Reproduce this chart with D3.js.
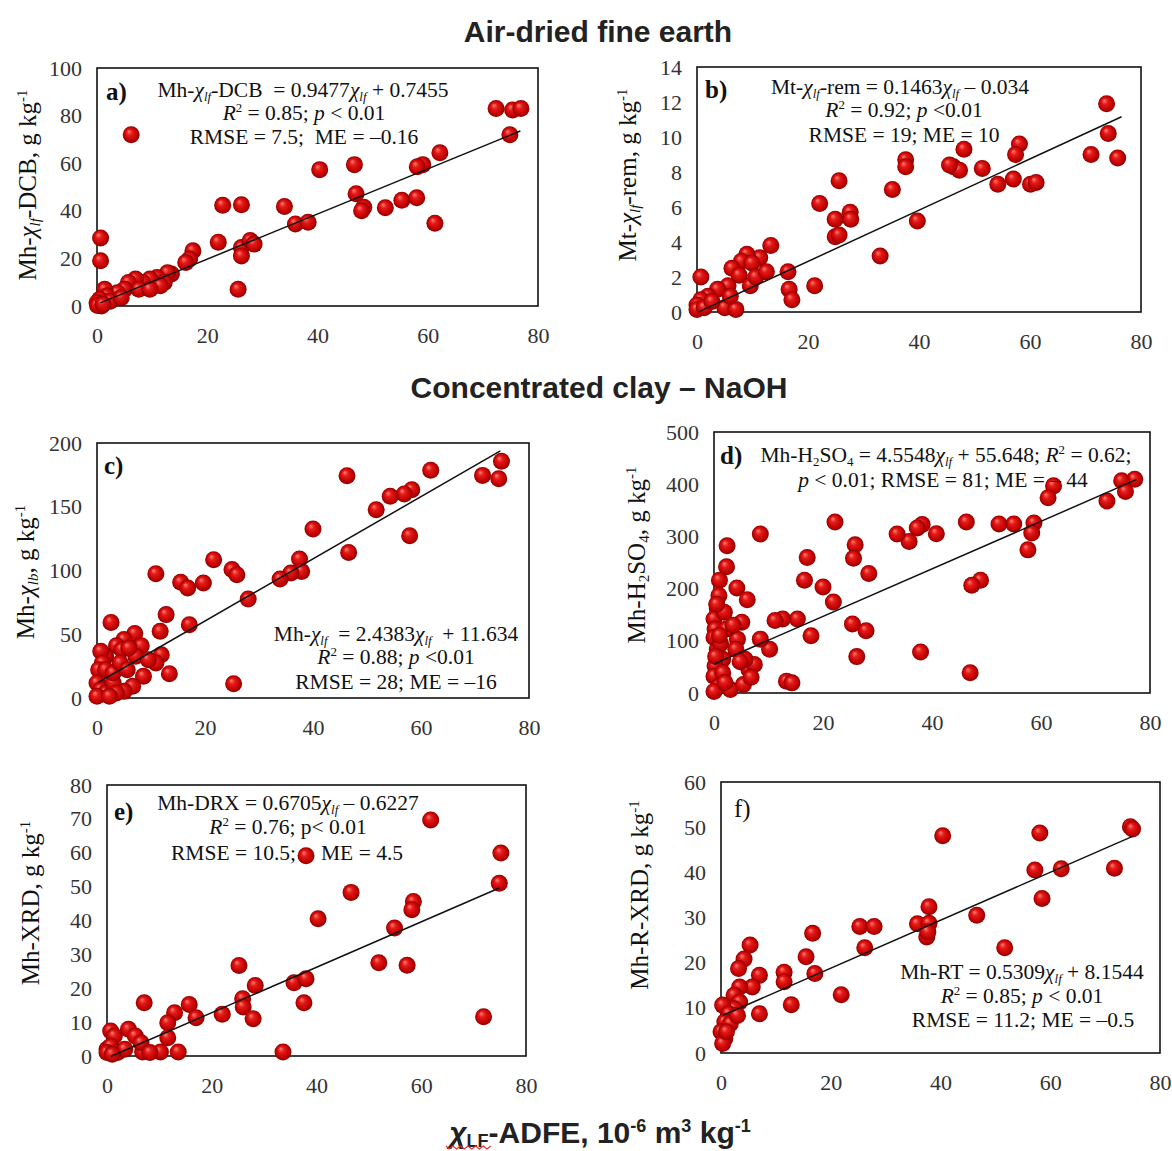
<!DOCTYPE html>
<html>
<head>
<meta charset="utf-8">
<script src="https://cdn.jsdelivr.net/npm/d3@7"></script>
<style>
  body { margin: 0; background: #fff; }
  svg { display: block; }
  text { font-family: "Liberation Serif", "Times New Roman", serif; }
  .title { font-family: "Liberation Sans", Arial, sans-serif; font-weight: bold; }
</style>
</head>
<body>
<svg id="chart" width="1172" height="1151"></svg>
<script>
// x axis is the same for all six panels
const xTicks = [0, 20, 40, 60, 80];

// a) Mh-χlf-DCB
const aX = [6.2,0.65,0.65,72.4,75.4,76.9,74.9,62.2,59.1,58.1,46.7,40.4,47,48.4,48,52.3,55.3,58,61.3,34,36,38.3,22.8,26.2,22,25.6,26.2,26.2,27.8,28.5,17.4,16.8,16.1,13.5,12.8,10.9,9.6,8.3,7,5.7,7.6,5,3.7,1.4,1.8,0.5,0,0.8,2.4,4.4,12.2,11.5,9.6,0.1,1.1];
const aY = [72,28.6,19,83,82.4,83,72,64.4,59.4,58.5,59.4,57.3,47.2,41.5,40,41.3,44.4,45.5,34.8,41.8,34.5,35.2,42.3,42.5,26.8,7,24.6,21,27.5,26,23.2,19.7,18.3,13.4,14,12,11.3,9.9,11.3,9.9,7,7,5.6,7,4.2,2.8,1.4,0,2,3.5,9.9,8.5,7,0.2,0.7];
const aTicks = [0, 20, 40, 60, 80, 100];
const aFit = [0.9477, 0.7455];
const aFitX = [0.6, 76.8];

// b) Mt-χlf-rem
const bX = [73.8,74.1,71,75.8,58.1,57.4,57,54.2,60.1,61.1,51.4,48.1,46.2,47.3,45.5,37.6,37.6,35.2,39.7,33,25.6,22.1,24.9,27.6,27.7,24.9,25.6,21.2,16.4,16.6,17.1,13.3,11.3,9,8,9.9,6.3,7.6,9.6,10.6,12.5,0.7,5.6,3.7,2,0.7,0,0,1.3,5,7,6,2.7];
const bY = [11.9,10.2,9,8.8,9.6,9,7.6,7.3,7.3,7.4,8.2,9.3,8.3,8.1,8.4,8.7,8.3,7,5.2,3.2,7.5,6.2,5.3,5.7,5.3,4.3,4.4,1.5,2.3,1.3,0.7,3.8,3.1,3.3,2.9,2.8,2.5,2.1,1.5,2,2.3,2,1.5,1.3,0.9,0.7,0.4,0.15,0.25,0.25,0.15,0.9,0.6];
const bTicks = [0, 2, 4, 6, 8, 10, 12, 14];
const bFit = [0.1463, -0.034];
const bFitX = [0.3, 76.5];

// c) Mh-χlf (concentrated clay)
const cX = [74.9,71.4,74.4,61.8,46.3,58.3,56.9,54.3,51.7,57.9,40,46.6,37.5,37.9,35.9,33.9,28,21.6,25,25.9,19.7,15.5,16.8,10.9,17.1,12.8,11.7,13.4,25.3,2.6,7,5,3.6,8.2,4.6,7.2,11.9,10.9,8.6,6.6,5,1.6,0.7,1,0.3,1.6,0,0.7,1.6,3,3,4.3,5.6,3.6,0,2.3,5.9,9.5];
const cY = [185.6,174.6,172,178.6,174.4,163.4,160,158.2,147.7,127.3,132.5,114.2,109,99.3,98,93.3,77.6,108.5,100.7,96.7,90.2,90.7,86.3,97.5,57.5,65.4,52.3,19.1,11.2,59.3,50.5,45.8,41,41,37.9,32.7,34,27.5,17,9.2,5.2,32.7,36.6,27.5,22.2,22.2,11.8,6.5,3.9,11.8,19.6,27.5,22.2,3.9,1.3,1.3,39.2,30];
const cTicks = [0, 50, 100, 150, 200];
const cFit = [2.4383, 11.634];
const cFitX = [0.3, 74.7];

// d) Mh-H2SO4
const dX = [77.2,74.8,75.5,72.1,62.3,61.3,58.7,58.3,57.6,55,52.3,46.3,48.9,47.3,47,40.8,38.2,37.3,35.8,33.6,37.9,22.2,25.9,25.6,28.4,21.9,20,16.6,17.1,25.4,27.9,26.2,15.3,17.8,12.6,11.2,10.2,13.3,14.3,8.5,2.4,2.3,1,4.2,6.1,5.1,0.9,0.6,0,0.2,0,0.6,1.6,0.2,0,0.9,3,5.4,6.4,7.4,4.3,8.5,5.7,4,2.3,0,1.6,1.9,0.5,1.2,0.3,2,1,3.5,4.8,6.8];
const dY = [409.7,406.5,385.8,367.7,396.8,374.2,325.8,306.5,274.2,323.9,323.9,327.7,216,206.5,38.7,305.2,322.6,316,290.3,304.5,78.7,327.7,283.9,258,229,174.2,203.2,216.1,259.4,132.3,119.4,69.7,141.9,109.7,141.9,138.7,83.9,22.6,19.4,304.5,281.9,241.9,216.1,201.3,178.7,135.5,187,161.3,141.9,122.6,106.5,83.9,64.5,51.6,32.3,12.9,6.5,16.1,45.2,54.8,103.2,103.2,64.5,83.9,122.6,3,38.7,154.8,170,95,70,20,110,130,60,30];
const dTicks = [0, 100, 200, 300, 400, 500];
const dFit = [4.5548, 55.648];
const dFitX = [0, 77.5];

// e) Mh-XRD
const eX = [61.8,75.2,38,74.9,46.6,40.3,58.5,58.2,54.9,51.9,57.3,71.9,33.6,25.2,28.3,25.9,26,27.9,22,35.7,38,37.6,15.7,17,12.9,11.6,11.6,7.1,13.6,10.2,6.8,4.1,5.4,0.7,1.4,0,0.7,2,0,3.4,6.5,8.2,1];
const eY = [69.7,59.9,59.1,51,48.3,40.5,45.6,43.2,37.8,27.5,26.8,11.6,1.2,26.7,20.8,16.9,14.5,11,12.3,21.6,22.8,15.7,15.2,11.3,12.8,9.8,5.4,15.7,1.2,1.2,1.2,7.9,5.9,7.4,5.9,2,2.9,1,1,2,3.9,1,0.5];
const eTicks = [0, 10, 20, 30, 40, 50, 60, 70, 80];
const eFit = [0.6705, -0.6227];
const eFitX = [0.7, 74.9];

// f) Mh-R-XRD
const fX = [74.6,75,58.1,40.4,57.2,62,71.7,58.5,46.6,51.7,37.9,35.8,37.9,37.5,37.7,25.3,27.9,26.2,16.7,15.5,17.1,21.9,12.8,11.5,11.5,5.3,4.2,3.2,7,7,5.7,3.4,2.4,3.4,2.4,0.3,1.4,0.7,0,0.7,0.3,1.7,3,1];
const fY = [50.1,49.6,48.7,48.1,40.5,40.8,40.9,34.2,30.5,23.3,32.4,28.6,28.7,25.7,26.8,28,28,23.3,26.5,21.3,17.6,12.9,10.7,17.9,15.8,23.9,20.8,18.7,17.2,8.7,14.6,14.6,12.8,11.3,9.8,10.6,8.7,6.9,4.7,3.2,2.1,6.5,8.3,4.7];
const fTicks = [0, 10, 20, 30, 40, 50, 60];
const fFit = [0.5309, 8.1544];
const fFitX = [0.3, 75];

// text pieces
const chi = { t: 'χ', i: true };
const lf = { t: 'lf', sub: true, i: true };
const R2 = [{ t: 'R', i: true }, { t: '2', sup: true }];
const p = { t: 'p', i: true };
const kg = [', g kg', { t: '-1', sup: true }];

// eq entries: [x, baseline, segments, anchor]
const panels = [
  { id: 'a)', x: aX, y: aY, ticks: aTicks, fit: aFit, fitX: aFitX,
    box: [97, 538, 68, 306], ylab: { x: 36, y: 185, segs: ['Mh-', chi, lf, '-DCB', ...kg] },
    lab: [106, 100, true],
    eq: [
      [303, 97, ['Mh-', chi, lf, '-DCB  = 0.9477', chi, lf, ' + 0.7455']],
      [304, 120, [...R2, ' = 0.85; ', p, ' < 0.01']],
      [304, 144, ['RMSE = 7.5;  ME = –0.16']]] },
  { id: 'b)', x: bX, y: bY, ticks: bTicks, fit: bFit, fitX: bFitX,
    box: [697, 1141, 67, 312], ylab: { x: 636, y: 175, segs: ['Mt-', chi, lf, '-rem', ...kg] },
    lab: [705, 98, true],
    eq: [
      [900, 94, ['Mt-', chi, lf, '-rem = 0.1463', chi, lf, ' – 0.034']],
      [904, 117, [...R2, ' = 0.92; ', p, ' <0.01']],
      [904, 142, ['RMSE = 19; ME = 10']]] },
  { id: 'c)', x: cX, y: cY, ticks: cTicks, fit: cFit, fitX: cFitX,
    box: [97, 529, 443, 698], ylab: { x: 34, y: 572, segs: ['Mh-', chi, { t: 'lb', sub: true, i: true }, ...kg] },
    lab: [104, 474, true],
    eq: [
      [396, 641, ['Mh-', chi, lf, '  = 2.4383', chi, lf, '  + 11.634']],
      [396, 664, [...R2, ' = 0.88; ', p, ' <0.01']],
      [396, 689, ['RMSE = 28; ME = –16']]] },
  { id: 'd)', x: dX, y: dY, ticks: dTicks, fit: dFit, fitX: dFitX,
    box: [714, 1150, 432, 693], ylab: { x: 645, y: 555, segs: ['Mh-H', { t: '2', sub: true }, 'SO', { t: '4', sub: true }, ...kg] },
    lab: [720, 464, true],
    eq: [
      [946, 462, ['Mh-H', { t: '2', sub: true }, 'SO', { t: '4', sub: true }, ' = 4.5548', chi, lf, ' + 55.648; ', ...R2, ' = 0.62;']],
      [943, 487, [p, ' < 0.01; RMSE = 81; ME = – 44']]] },
  { id: 'e)', x: eX, y: eY, ticks: eTicks, fit: eFit, fitX: eFitX,
    box: [107, 526, 785, 1056], ylab: { x: 39, y: 903, segs: ['Mh-XRD', ...kg] },
    lab: [114, 820, true],
    eq: [
      [288, 810, ['Mh-DRX = 0.6705', chi, lf, ' – 0.6227']],
      [288, 834, [...R2, ' = 0.76; p< 0.01']],
      [296, 860, ['RMSE = 10.5;'], 'end'],
      [321, 860, ['ME = 4.5'], 'start']] },
  { id: 'f)', x: fX, y: fY, ticks: fTicks, fit: fFit, fitX: fFitX,
    box: [721, 1160, 782, 1053], ylab: { x: 648, y: 895, segs: ['Mh-R-XRD', ...kg] },
    lab: [734, 817, false],
    eq: [
      [1022, 979, ['Mh-RT = 0.5309', chi, lf, ' + 8.1544']],
      [1022, 1003, [...R2, ' = 0.85; ', p, ' < 0.01']],
      [1023, 1027, ['RMSE = 11.2; ME = –0.5']]] }
];

const svg = d3.select('#chart');

// shaded ball marker
const grad = svg.append('defs').append('radialGradient')
  .attr('id', 'ball').attr('cx', '50%').attr('cy', '50%').attr('r', '50%')
  .attr('fx', '35%').attr('fy', '30%');
[[0, '#ff8272'], [0.35, '#e41a1a'], [0.8, '#bf0000'], [1, '#850000']].forEach(s =>
  grad.append('stop').attr('offset', s[0]).attr('stop-color', s[1]));

// text with sub/superscripts
function rich(g, x, y, segs, size, anchor, subK) {
  const t = g.append('text').attr('x', x).attr('y', y)
    .attr('font-size', size).attr('text-anchor', anchor || 'middle')
    .attr('fill', '#111').style('white-space', 'pre');
  let shift = 0;
  segs.forEach(s => {
    if (typeof s === 'string') s = { t: s };
    const target = s.sub ? size * (subK || 0.17) : s.sup ? -size * 0.36 : 0;
    const sp = t.append('tspan').text(s.t).attr('dy', target - shift);
    shift = target;
    if (s.sub || s.sup) sp.attr('font-size', size * 0.6);
    if (s.i) sp.attr('font-style', 'italic');
    if (s.b) sp.attr('font-weight', 'bold');
  });
  return t;
}

panels.forEach(P => {
  const [l, r, t, b] = P.box;
  const x = d3.scaleLinear().domain([0, 80]).range([l, r]);
  const y = d3.scaleLinear().domain([0, d3.max(P.ticks)]).range([b, t]);
  const g = svg.append('g');

  g.append('g').attr('transform', `translate(0,${b})`)
    .call(d3.axisBottom(x).tickValues(xTicks).tickSize(0).tickPadding(21))
    .call(a => a.select('.domain').remove());
  g.append('g').attr('transform', `translate(${l},0)`)
    .call(d3.axisLeft(y).tickValues(P.ticks).tickSize(0).tickPadding(15))
    .call(a => a.select('.domain').remove());
  g.selectAll('.tick text').attr('font-size', 22).attr('fill', '#333')
    .attr('font-family', '"Liberation Serif", serif');

  g.append('rect').attr('x', l).attr('y', t).attr('width', r - l).attr('height', b - t)
    .attr('fill', 'none').attr('stroke', '#111').attr('stroke-width', 1.6);

  g.selectAll('circle').data(d3.range(P.x.length)).join('circle')
    .attr('cx', i => x(P.x[i])).attr('cy', i => y(P.y[i])).attr('r', 8.5)
    .attr('fill', 'url(#ball)');

  g.append('line')
    .attr('x1', x(P.fitX[0])).attr('y1', y(P.fit[0] * P.fitX[0] + P.fit[1]))
    .attr('x2', x(P.fitX[1])).attr('y2', y(P.fit[0] * P.fitX[1] + P.fit[1]))
    .attr('stroke', '#111').attr('stroke-width', 1.5);

  g.append('text').attr('x', P.lab[0]).attr('y', P.lab[1]).text(P.id)
    .attr('font-size', 25).attr('font-weight', P.lab[2] ? 'bold' : 'normal').attr('fill', '#111');

  P.eq.forEach(e => rich(g, e[0], e[1], e[2], 21.5, e[3]));

  const yl = g.append('g').attr('transform', `translate(${P.ylab.x},${P.ylab.y}) rotate(-90)`);
  rich(yl, 0, 0, P.ylab.segs, 25);
});

// titles
svg.append('text').attr('class', 'title').attr('x', 598).attr('y', 42)
  .attr('text-anchor', 'middle').attr('font-size', 30).attr('fill', '#222')
  .text('Air-dried fine earth');
svg.append('text').attr('class', 'title').attr('x', 599).attr('y', 398)
  .attr('text-anchor', 'middle').attr('font-size', 30).attr('fill', '#222')
  .text('Concentrated clay – NaOH');

const xt = rich(svg, 600, 1143,
  [{ t: 'χ', i: true }, { t: 'LF', sub: true }, '-ADFE, 10', { t: '-6', sup: true }, ' m', { t: '3', sup: true }, ' kg', { t: '-1', sup: true }], 30, 'middle', 0.12);
xt.attr('class', 'title').attr('fill', '#222');

// spell-check squiggle under χLF
const sq = d3.path();
sq.moveTo(446, 1146);
for (let k = 0; k < 12; k++) sq.lineTo(449 + k * 3.8, k % 2 ? 1146 : 1149);
svg.append('path').attr('d', sq.toString()).attr('fill', 'none').attr('stroke', '#e03030').attr('stroke-width', 1.2);
</script>
</body>
</html>
